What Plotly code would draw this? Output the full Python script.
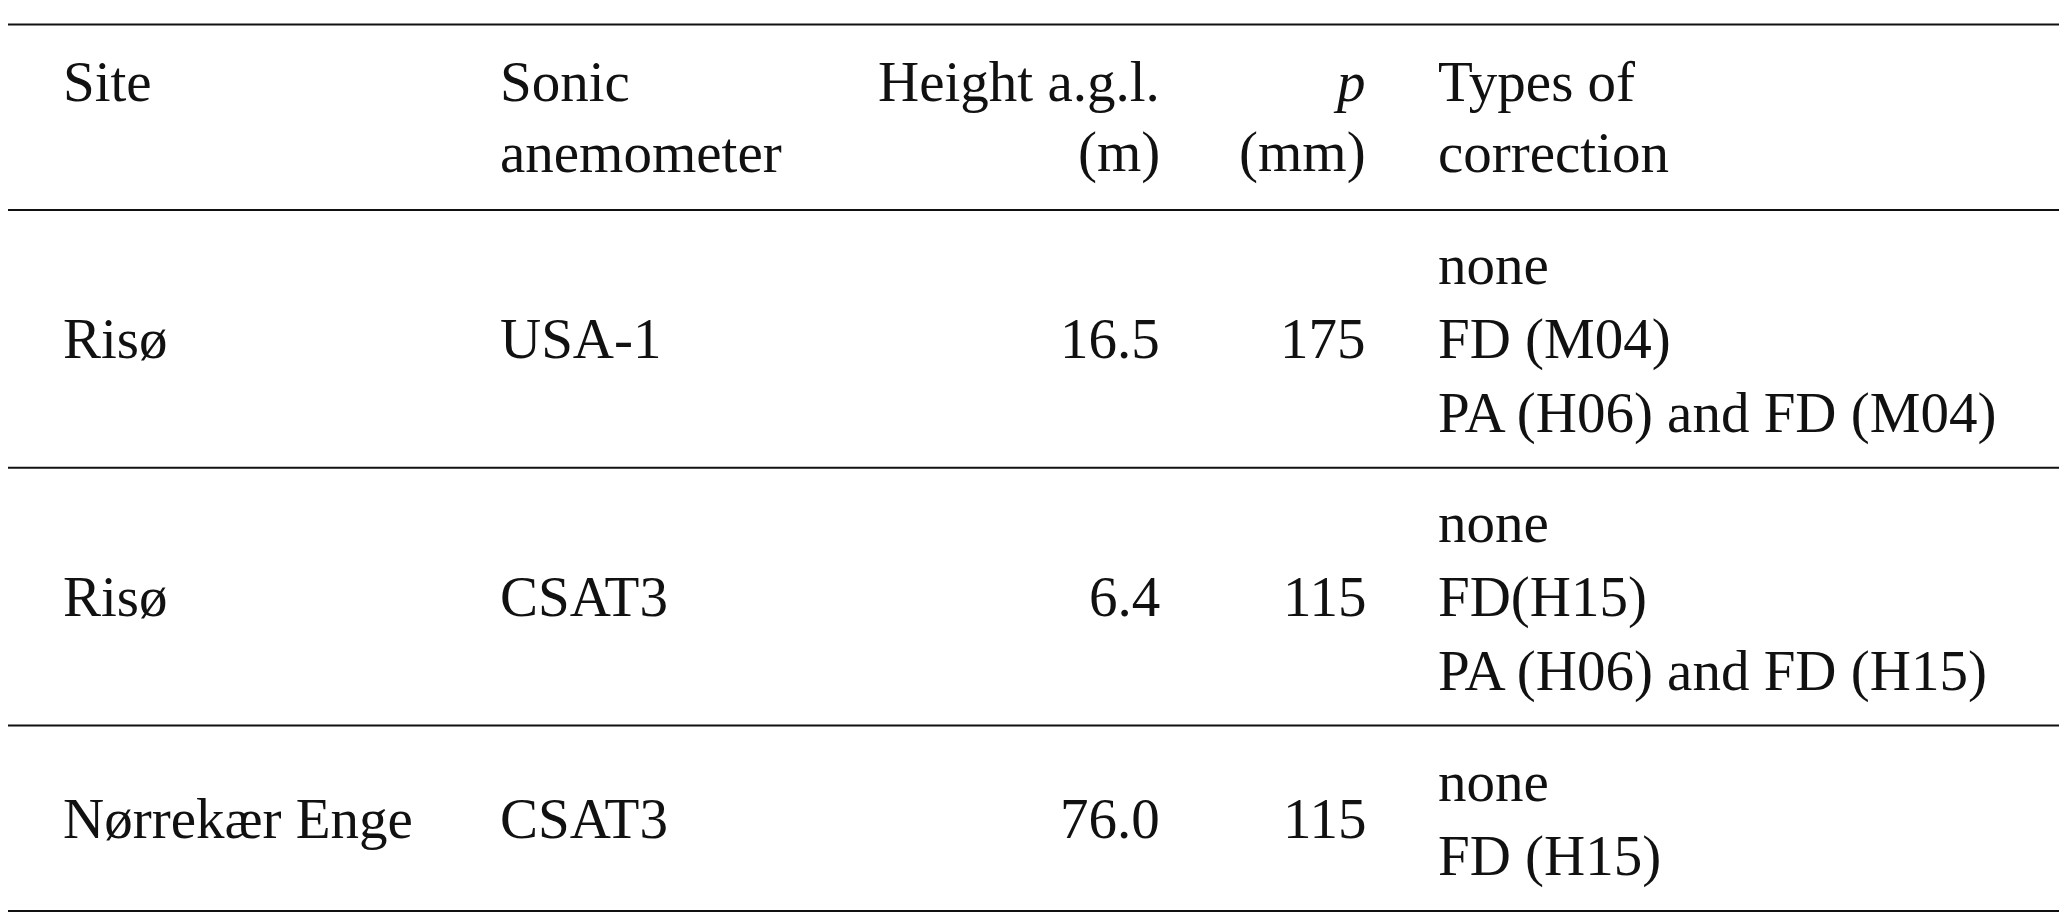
import plotly.graph_objects as go

sites = ["Risø", "Risø", "Nørrekær Enge"]
anemometers = ["USA-1", "CSAT3", "CSAT3"]
heights = ["16.5", "6.4", "76.0"]
p_values = ["175", "115", "115"]
corrections = [["none", "FD (M04)", "PA (H06) and FD (M04)"],
               ["none", "FD(H15)", "PA (H06) and FD (H15)"],
               ["none", "FD (H15)"]]
headers = [["Site"], ["Sonic", "anemometer"], ["Height a.g.l.", "(m)"], ["<i>p</i>", "(mm)"], ["Types of", "correction"]]

W, H = 2067, 914
FONT = dict(family="Liberation Serif, Times New Roman, serif", size=57, color="#111")
col_x = [0.0255, 0.237, 0.5585, 0.658, 0.691]
col_anchor = ["left", "left", "right", "right", "left"]
rule_y = [0.018, 0.221, 0.503, 0.785, 0.988]
line_gap = 0.0815

fig = go.Figure()
ann = []
def add(x, y, text, anchor):
    ann.append(dict(x=x, y=1 - y, xref="paper", yref="paper", text=text, showarrow=False,
                    xanchor=anchor, yanchor="middle", font=FONT))

for c, lines in enumerate(headers):
    for i, t in enumerate(lines):
        add(col_x[c], 0.080 + i * 0.078, t, col_anchor[c])

for r in range(len(sites)):
    top, bot = rule_y[r + 1], rule_y[r + 2]
    n = len(corrections[r])
    block_center = (top + bot) / 2
    start = block_center - (n - 1) / 2 * line_gap
    mid = start + (n - 1) / 2 * line_gap
    vals = [sites[r], anemometers[r], heights[r], p_values[r]]
    for c, v in enumerate(vals):
        add(col_x[c], mid, v, col_anchor[c])
    for i, t in enumerate(corrections[r]):
        add(col_x[4], start + i * line_gap, t, "left")

shapes = []
for y in rule_y:
    shapes.append(dict(type="line", xref="paper", yref="paper", x0=0, x1=0.998, y0=1 - y, y1=1 - y,
                       line=dict(color="#111", width=2)))

fig.update_layout(width=W, height=H, margin=dict(l=0, r=0, t=0, b=0),
                  paper_bgcolor="white", plot_bgcolor="white",
                  xaxis=dict(visible=False, range=[0, 1]), yaxis=dict(visible=False, range=[0, 1]),
                  annotations=ann, shapes=shapes, showlegend=False)
fig.write_html("out.html")
